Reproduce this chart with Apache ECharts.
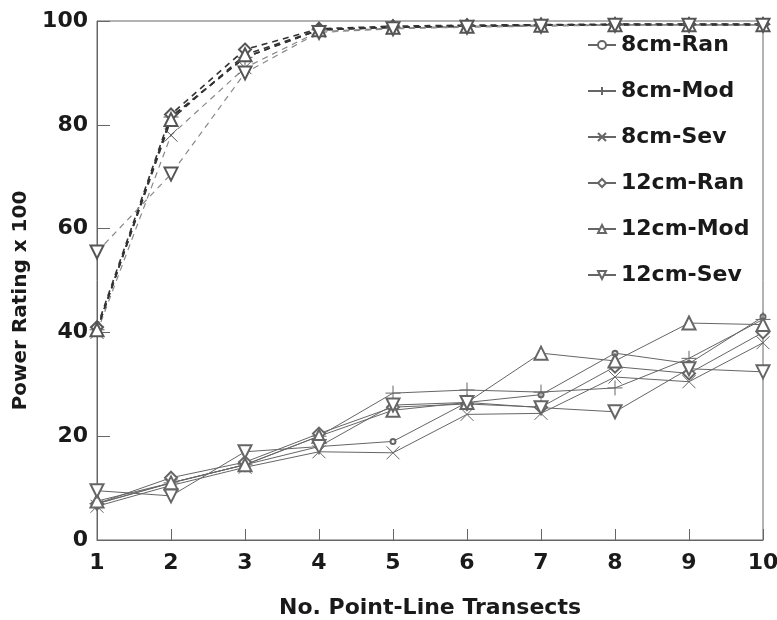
<!DOCTYPE html>
<html>
<head>
<meta charset="utf-8">
<script src="https://cdn.jsdelivr.net/npm/echarts@6/dist/echarts.min.js"></script>
<style>html,body{margin:0;padding:0;background:#fff;}#c{width:777px;height:620px;}</style>
</head>
<body>
<div id="c"></div>
<script>
const transects = [1, 2, 3, 4, 5, 6, 7, 8, 9, 10];
const seriesNames = ['8cm-Ran', '8cm-Mod', '8cm-Sev', '12cm-Ran', '12cm-Mod', '12cm-Sev'];
const yTicks = [0, 20, 40, 60, 80, 100];

// lower group (solid lines)
const low8Ran  = [7, 11, 14.5, 18, 19, 26.5, 28, 36, 34, 43];
const low8Mod  = [7, 11, 14.5, 20, 28.3, 28.9, 28.5, 29.3, 35, 42.5];
const low8Sev  = [6.5, 10.5, 14, 17, 16.8, 24.2, 24.4, 31.4, 30.5, 38];
const low12Ran = [7, 12, 15, 20.5, 25.6, 26.2, 25.6, 33.4, 32.1, 40];
const low12Mod = [7.5, 11, 14.5, 20, 25, 26.5, 36, 34.5, 41.8, 41.5];
const low12Sev = [9.5, 8.5, 17, 18, 26, 26.5, 25.5, 24.7, 33, 32.4];

// upper group (dashed lines)
const high8Ran  = [40.5, 81.5, 93, 98.3, 98.8, 99, 99.2, 99.3, 99.3, 99.3];
const high8Mod  = [40.5, 81.5, 93, 98.3, 98.8, 99, 99.2, 99.3, 99.3, 99.3];
const high8Sev  = [40, 78, 91, 98, 98.6, 99, 99.2, 99.3, 99.3, 99.3];
const high12Ran = [41, 82, 94.5, 98.5, 99, 99.2, 99.3, 99.4, 99.4, 99.4];
const high12Mod = [40.5, 81, 93.5, 98.3, 98.8, 99, 99.2, 99.3, 99.3, 99.3];
const high12Sev = [55.5, 70.5, 90, 97.8, 98.5, 98.8, 99, 99.2, 99.2, 99.2];

const lowData = [low8Ran, low8Mod, low8Sev, low12Ran, low12Mod, low12Sev];
const highData = [high8Ran, high8Mod, high8Sev, high12Ran, high12Mod, high12Sev];

const PLUS = 'path://M0,5L10,5M5,0L5,10';
const CROSS = 'path://M0,0L10,10M10,0L0,10';
const symbols = [
  {symbol: 'emptyCircle', size: 5, rotate: 0},
  {symbol: PLUS, size: 15, rotate: 0},
  {symbol: CROSS, size: 13, rotate: 0},
  {symbol: 'emptyDiamond', size: 12, rotate: 0},
  {symbol: 'emptyTriangle', size: 13, rotate: 0},
  {symbol: 'emptyTriangle', size: 13, rotate: 180}
];

function pairs(arr) { return transects.map((x, i) => [x, arr[i]]); }

const series = [];
highData.forEach((d, i) => {
  const dark = (i === 0 || i === 1 || i === 3 || i === 4);
  series.push({
    name: seriesNames[i] + ' (upper)',
    type: 'line',
    data: pairs(d),
    symbol: symbols[i].symbol,
    symbolSize: symbols[i].size,
    symbolRotate: symbols[i].rotate,
    showSymbol: true,
    lineStyle: {color: dark ? '#333' : '#888', width: dark ? 1.6 : 1.2, type: [6, 5]},
    itemStyle: {color: '#555', borderColor: '#555', borderWidth: 1},
    emphasis: {disabled: true},
    z: 2,
    animation: false
  });
});
lowData.forEach((d, i) => {
  series.push({
    name: seriesNames[i],
    type: 'line',
    data: pairs(d),
    symbol: symbols[i].symbol,
    symbolSize: symbols[i].size,
    symbolRotate: symbols[i].rotate,
    showSymbol: true,
    lineStyle: {color: '#666', width: 1, type: 'solid'},
    itemStyle: {color: '#666', borderColor: '#666', borderWidth: 1},
    emphasis: {disabled: true},
    z: 3,
    animation: false
  });
});

const FONT = 'DejaVu Sans';
const chart = echarts.init(document.getElementById('c'), null, {renderer: 'canvas'});
chart.setOption({
  backgroundColor: '#fff',
  animation: false,
  grid: {left: 97, right: 14, top: 21, bottom: 80, show: true, borderColor: '#666', borderWidth: 1,
    backgroundColor: 'transparent', outerBoundsMode: 'none', containLabel: false},
  legend: {
    data: seriesNames,
    orient: 'vertical',
    left: 582,
    top: 29,
    itemWidth: 28,
    itemHeight: 10,
    itemGap: 24,
    textStyle: {fontFamily: FONT, fontWeight: 'bold', fontSize: 22, color: '#1a1a1a', lineHeight: 22},
    backgroundColor: 'transparent',
    selectedMode: false
  },
  xAxis: {
    type: 'value',
    min: 1, max: 10, interval: 1,
    name: 'No. Point-Line Transects',
    nameLocation: 'middle',
    nameGap: 57,
    nameTextStyle: {fontFamily: FONT, fontWeight: 'bold', fontSize: 22, color: '#1a1a1a'},
    axisLine: {show: true, lineStyle: {color: '#666', width: 1}},
    axisTick: {show: true, inside: true, length: 11, lineStyle: {color: '#666'}},
    axisLabel: {fontFamily: FONT, fontWeight: 'bold', fontSize: 22, color: '#1a1a1a', margin: 12},
    splitLine: {show: false}
  },
  yAxis: {
    type: 'value',
    min: 0, max: 100, interval: 20,
    name: 'Power Rating x 100',
    nameLocation: 'middle',
    nameGap: 64,
    nameTextStyle: {fontFamily: FONT, fontWeight: 'bold', fontSize: 20, color: '#1a1a1a', padding: [0, 40, 0, 0]},
    axisLine: {show: true, lineStyle: {color: '#666', width: 1}},
    axisTick: {show: true, inside: true, length: 13, lineStyle: {color: '#666'}},
    axisLabel: {fontFamily: FONT, fontWeight: 'bold', fontSize: 22, color: '#1a1a1a', margin: 9,
      formatter: v => yTicks.includes(v) ? String(v) : ''},
    splitLine: {show: false}
  },
  series: series
});
</script>
</body>
</html>
